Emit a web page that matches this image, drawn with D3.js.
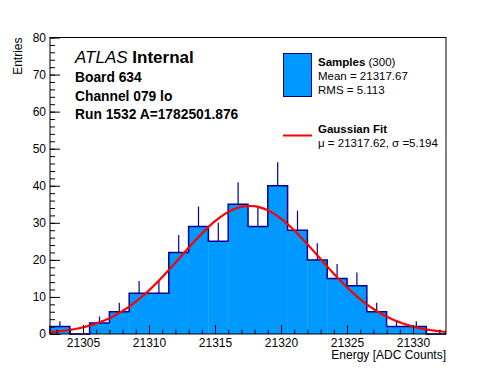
<!DOCTYPE html>
<html><head><meta charset="utf-8">
<script src="https://cdn.jsdelivr.net/npm/d3@7"></script>
<style>
html,body{margin:0;padding:0;background:#fff;}
svg{display:block;font-family:"Liberation Sans",Arial,Helvetica,sans-serif;}
</style></head>
<body>
<svg id="c" width="496" height="372"></svg>
<script>
// Data
const binEdges = [21302.5,21304,21305.5,21307,21308.5,21310,21311.5,21313,21314.5,21316,21317.5,21319,21320.5,21322,21323.5,21325,21326.5,21328,21329.5,21331,21332.5];
const counts = [2,0,3,6,11,11,22,29,25,35,29,40,28,20,15,13,6,2,2,0];
const xTicks = [21305,21310,21315,21320,21325,21330];
const yTicks = [0,10,20,30,40,50,60,70,80];
const fitParams = [300, 1.5, 21317.62, 5.194]; // entries, bin width, mu, sigma
const infoLines = ["Board 634","Channel 079 lo","Run 1532 A=1782501.876"];

const svg = d3.select("#c");
const L=50, R=446, T=37.5, B=334;
const x = d3.scaleLinear().domain([21302.5,21332.5]).range([L,R]);
const y = d3.scaleLinear().domain([0,80]).range([B,T]);
const fillC = "#0099ff", lineC = "#000099";

// error bars (upper part)
const bins = counts.map((c,i)=>({x0:binEdges[i],x1:binEdges[i+1],c}));
svg.append("g").selectAll("line").data(bins.filter(d=>d.c>0)).join("line")
  .attr("x1",d=>x((d.x0+d.x1)/2)).attr("x2",d=>x((d.x0+d.x1)/2))
  .attr("y1",d=>y(d.c)).attr("y2",d=>y(d.c+Math.sqrt(d.c)))
  .attr("stroke",lineC).attr("stroke-width",1.2);

// filled bars
svg.append("g").selectAll("rect").data(bins).join("rect")
  .attr("x",d=>x(d.x0)).attr("width",d=>x(d.x1)-x(d.x0)+0.3)
  .attr("y",d=>y(d.c)).attr("height",d=>y(0)-y(d.c))
  .attr("fill",fillC);

// outline step
let p = "M"+x(binEdges[0])+","+y(0);
bins.forEach(d=>{ p+="L"+x(d.x0)+","+y(d.c)+"L"+x(d.x1)+","+y(d.c); });
p += "L"+x(binEdges[binEdges.length-1])+","+y(0);
svg.append("path").attr("d",p).attr("fill","none").attr("stroke",lineC).attr("stroke-width",1.5);

// Gaussian fit
const [N,bw,mu,sig]=fitParams;
const amp = N*bw/(sig*Math.sqrt(2*Math.PI));
const xs = d3.range(0,101).map(i=>21302.5+i*0.3);
svg.append("path").datum(xs)
  .attr("d",d3.line().x(v=>x(v)).y(v=>y(amp*Math.exp(-0.5*((v-mu)/sig)**2))))
  .attr("fill","none").attr("stroke","#ff0000").attr("stroke-width",2.2);

// frame
svg.append("rect").attr("x",L).attr("y",T).attr("width",R-L).attr("height",B-T)
  .attr("fill","none").attr("stroke","#000").attr("stroke-width",1);

// axes
const xa = svg.append("g").attr("transform",`translate(0,${B})`)
  .call(d3.axisBottom(x).tickValues(xTicks).tickSize(-9).tickFormat(d3.format("d")).tickPadding(4));
xa.select(".domain").remove();
xa.selectAll("text").attr("font-size",12).attr("fill","#000").attr("font-family","Liberation Sans, Arial, sans-serif");
const xm = svg.append("g").attr("transform",`translate(0,${B})`)
  .call(d3.axisBottom(x).tickValues(d3.range(21303,21333,1)).tickSize(-4.5).tickFormat(""));
xm.select(".domain").remove();

const ya = svg.append("g").attr("transform",`translate(${L},0)`)
  .call(d3.axisLeft(y).tickValues(yTicks).tickSize(-10).tickPadding(4));
ya.select(".domain").remove();
ya.selectAll("text").attr("font-size",12).attr("fill","#000").attr("font-family","Liberation Sans, Arial, sans-serif");
const ym = svg.append("g").attr("transform",`translate(${L},0)`)
  .call(d3.axisLeft(y).tickValues(d3.range(0,81,2)).tickSize(-5).tickFormat(""));
ym.select(".domain").remove();

// axis titles
svg.append("text").attr("transform",`translate(22,${T}) rotate(-90)`)
  .attr("text-anchor","end").attr("font-size",12).text("Entries");
svg.append("text").attr("x",R).attr("y",359).attr("text-anchor","end")
  .attr("font-size",12).text("Energy [ADC Counts]");

// ATLAS label
const at = svg.append("text").attr("x",75).attr("y",63).attr("font-size",17);
at.append("tspan").attr("font-style","italic").text("ATLAS");
at.append("tspan").attr("font-weight","bold").text(" Internal");
infoLines.forEach((t,i)=>{
  svg.append("text").attr("x",75).attr("y",82+i*18.7).attr("font-size",13.8)
    .attr("font-weight","bold").text(t);
});

// legend
svg.append("rect").attr("x",283.5).attr("y",53.5).attr("width",28).attr("height",43)
  .attr("fill",fillC).attr("stroke",lineC).attr("stroke-width",1);
const l1 = svg.append("text").attr("x",318).attr("y",66).attr("font-size",11.5);
l1.append("tspan").attr("font-weight","bold").text("Samples");
l1.append("tspan").text(" (300)");
svg.append("text").attr("x",318).attr("y",80).attr("font-size",11.5).text("Mean = 21317.67");
svg.append("text").attr("x",318).attr("y",94).attr("font-size",11.5).text("RMS = 5.113");
svg.append("line").attr("x1",283).attr("x2",312).attr("y1",135.5).attr("y2",135.5)
  .attr("stroke","#ff0000").attr("stroke-width",2);
svg.append("text").attr("x",318).attr("y",133).attr("font-size",11.5).attr("font-weight","bold").text("Gaussian Fit");
svg.append("text").attr("x",318).attr("y",147).attr("font-size",11.5).text("\u03bc = 21317.62, \u03c3 =5.194");
</script>
</body></html>
